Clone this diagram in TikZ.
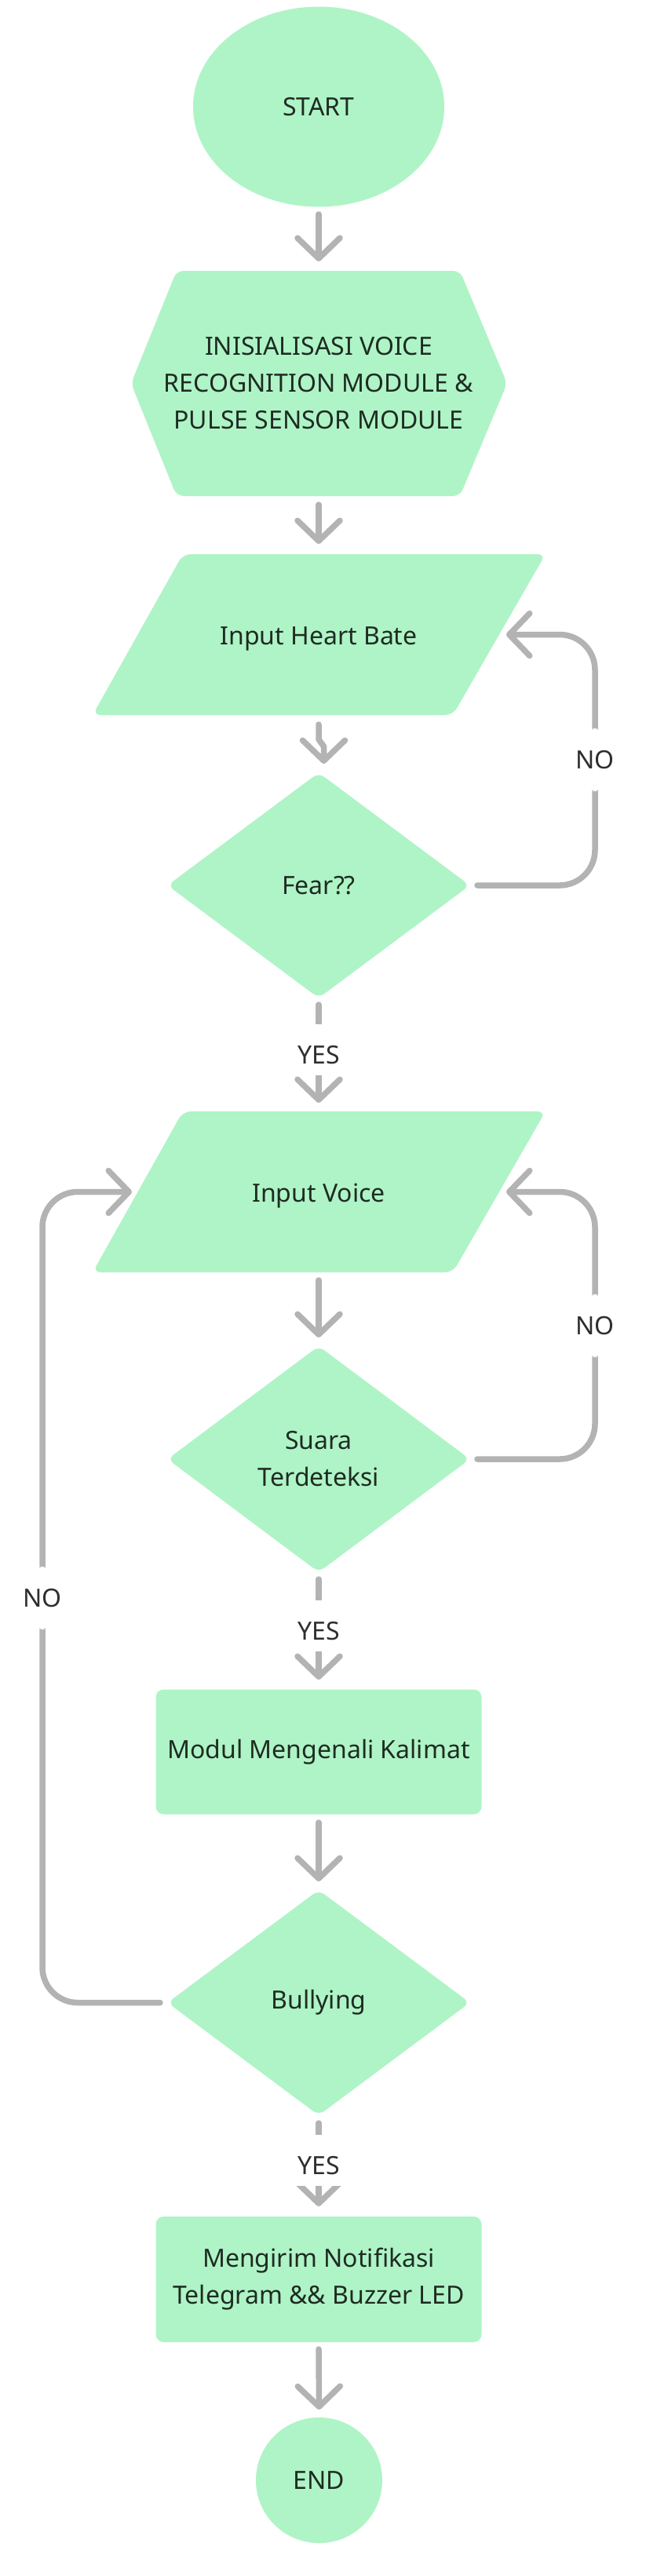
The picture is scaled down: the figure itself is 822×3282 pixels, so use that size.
\documentclass[tikz,border=0pt]{standalone}
\usepackage{fontspec}
\setmainfont{Noto Sans}
\usetikzlibrary{shapes.geometric,arrows.meta,calc}
\definecolor{shapefill}{HTML}{AFF4C6}
\definecolor{linegray}{HTML}{B3B3B3}
\definecolor{textdark}{HTML}{1E2B23}
\definecolor{lbltext}{HTML}{2E2E2E}
\begin{document}
\begin{tikzpicture}[x=1pt,y=-1pt,
  txt/.style={text=textdark, font=\fontsize{32}{47}\selectfont, align=center, inner sep=0pt, outer sep=0pt},
  term/.style={txt, ellipse, fill=shapefill},
  proc/.style={txt, rectangle, rounded corners=10pt, fill=shapefill, minimum width=415pt, minimum height=159pt},
  dec/.style={txt, diamond, rounded corners=9pt, fill=shapefill, minimum width=385pt, minimum height=287pt},
  conn/.style={draw=linegray, line width=7.5pt, line cap=round, line join=round, -{Straight Barb[length=26pt,width=54pt,round]}},
  loopconn/.style={conn, rounded corners=45pt},
  lbl/.style={fill=white, text=lbltext, font=\fontsize{32}{38}\selectfont, inner sep=0pt, minimum width=74pt},
  nolbl/.style={lbl, minimum height=80pt},
  yeslbl/.style={lbl, text height=50pt, text depth=15pt}
]
\fill[white] (0,0) rectangle (822,3282);
\useasboundingbox (0,0) rectangle (822,3282);

% terminals
\node[term, minimum width=320pt, minimum height=255pt] (start) at (406,136) {START};

% hexagon
\coordinate (initc) at (406,488.5);
\fill[shapefill, rounded corners=9pt]
  ($(initc)+(-181,-143.5)$) -- ($(initc)+(180,-143.5)$) -- ($(initc)+(240,0)$) --
  ($(initc)+(180,143.5)$) -- ($(initc)+(-181,143.5)$) -- ($(initc)+(-239,0)$) -- cycle;
\node[txt] (init) at (initc) {INISIALISASI VOICE\\RECOGNITION MODULE \&\\PULSE SENSOR MODULE};

% parallelogram 1
\coordinate (p1c) at (406,808.5);
\fill[shapefill, rounded corners=10pt]
  ($(p1c)+(-173,-102.5)$) -- ($(p1c)+(289,-102.5)$) -- ($(p1c)+(171,102.5)$) -- ($(p1c)+(-288,102.5)$) -- cycle;
\node[txt, yshift=-5pt] (par1) at (p1c) {Input Heart Bate};

\node[dec] (fear) at (406,1128) {Fear??};

% parallelogram 2
\coordinate (p2c) at (406,1518.5);
\fill[shapefill, rounded corners=10pt]
  ($(p2c)+(-173,-102.5)$) -- ($(p2c)+(289,-102.5)$) -- ($(p2c)+(171,102.5)$) -- ($(p2c)+(-288,102.5)$) -- cycle;
\node[txt, yshift=-5pt] (par2) at (p2c) {Input Voice};

\node[dec, minimum height=288pt] (suara) at (406,1859) {Suara\\Terdeteksi};
\node[proc] (modul) at (406,2232) {\raisebox{-4pt}{Modul Mengenali Kalimat}};
\node[dec] (bull) at (406,2551.5) {\raisebox{-4pt}{Bullying}};
\node[proc, minimum height=160pt] (notif) at (406,2904) {Mengirim Notifikasi\\Telegram \&\& Buzzer LED};
\node[term, minimum width=161pt, minimum height=160pt] (end) at (406.5,3160) {END};

% connectors
\draw[conn] ($(start.south)+(0,9.5)$) -- ($(initc)+(0,-155.5)$);
\draw[conn] ($(initc)+(0,154.5)$) -- ($(p1c)+(0,-115.5)$);
\draw[conn] ($(p1c)+(0,114.5)$) -- ($(p1c)+(0,133.5)$) -- ($(p1c)+(6.5,142.5)$) -- ($(fear.north)+(6.5,-11.5)$);
\draw[conn] ($(fear.south)+(0,8.5)$) -- node[yeslbl, pos=0.46]{YES} ($(p2c)+(0,-113.5)$);
\draw[loopconn] ($(fear.east)+(9.5,0)$) -| (758,968) node[nolbl]{NO} |- ($(p1c)+(239,0)$);
\draw[conn] ($(p2c)+(0,112.5)$) -- ($(suara.north)+(0,-11)$);
\draw[loopconn] ($(suara.east)+(9.5,0)$) -| (758,1689) node[nolbl]{NO} |- ($(p2c)+(239,0)$);
\draw[conn] ($(suara.south)+(0,9)$) -- node[yeslbl, pos=0.465]{YES} ($(modul.north)+(0,-12.5)$);
\draw[conn] ($(modul.south)+(0,10.5)$) -- ($(bull.north)+(0,-11)$);
\draw[loopconn] ($(bull.west)+(-9.5,0)$) -| (54,2036) node[nolbl]{NO} |- ($(p2c)+(-238,0)$);
\draw[conn] ($(bull.south)+(0,10)$) -- node[yeslbl, pos=0.448]{YES} ($(notif.north)+(0,-13)$);
\draw[conn] ($(notif.south)+(0,9)$) -- ($(end.north)+(0,-10)$);
\end{tikzpicture}
\end{document}
